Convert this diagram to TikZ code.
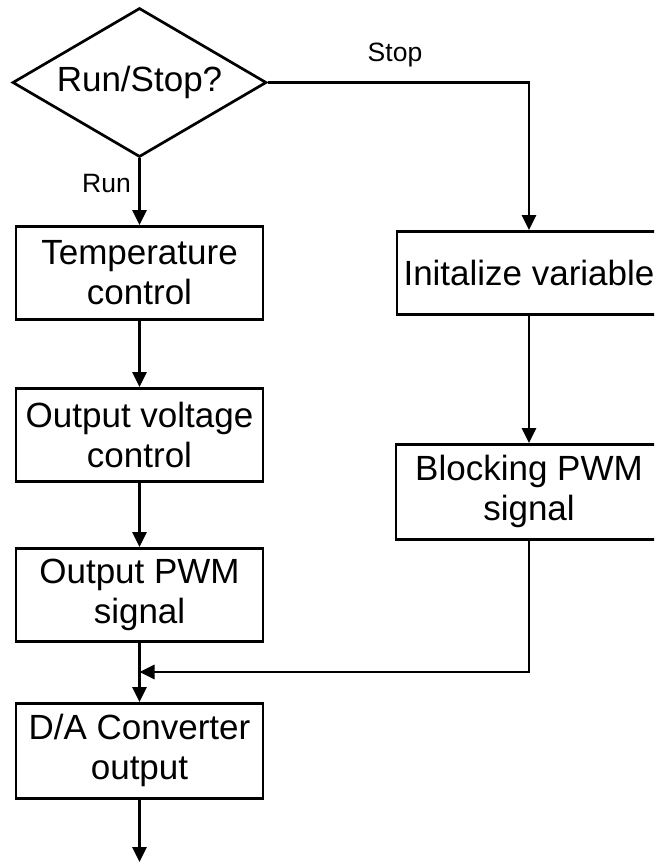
\documentclass[tikz,border=0pt]{standalone}
\usepackage{fontspec}
\setmainfont{Liberation Sans}
\usetikzlibrary{shapes.geometric,arrows.meta}
\begin{document}
\begin{tikzpicture}[x=1pt,y=-1pt,
  box/.style={draw,line width=2.7pt,minimum width=247pt,inner sep=0pt,align=center,
    font=\fontsize{35}{40}\selectfont,anchor=north},
  dec/.style={draw,diamond,line width=2.7pt,inner sep=0pt,aspect=1.7,
    minimum width=254pt,minimum height=149pt,font=\fontsize{35}{40}\selectfont},
  lab/.style={inner sep=0pt,font=\fontsize{26.5}{30}\selectfont},
  arr/.style={line width=2.7pt,-{Triangle[length=15pt,width=14pt]}}]
\useasboundingbox (0,0) rectangle (654,863);
\clip (0,0) rectangle (654,863);
\node[dec] (q) at (139.5,82.5) {Run/Stop?};
\node[box,minimum height=93pt] (temp) at (139.5,225) {Temperature\\control};
\node[box,minimum height=93pt] (ov) at (139.5,387) {Output voltage\\control};
\node[box,minimum height=93pt] (opwm) at (139.5,547) {Output PWM\\signal};
\node[box,minimum height=95pt] (da) at (139.5,702) {D/A Converter\\output};
\node[box,minimum height=83pt,minimum width=264pt] (init) at (529,230) {Initalize variable};
\node[box,minimum height=95pt,minimum width=266pt] (block) at (529,443) {Blocking PWM\\signal};
\coordinate (j) at (139.5,672);
\coordinate (e) at (139.5,862);
\node[lab,anchor=east] (runlab) at (131,184) {Run};
\node[lab] (stoplab) at (395,55) {Stop};
\draw[arr] (q.south) -- (temp.north);
\draw[arr] (temp.south) -- (ov.north);
\draw[arr] (ov.south) -- (opwm.north);
\draw[arr] (opwm.south) -- (da.north);
\draw[arr] (da.south) -- (e);
\draw[arr] (q.east) -| (init.north);
\draw[arr] (init.south) -- (block.north);
\draw[arr] (block.south) |- (j);
\end{tikzpicture}
\end{document}
